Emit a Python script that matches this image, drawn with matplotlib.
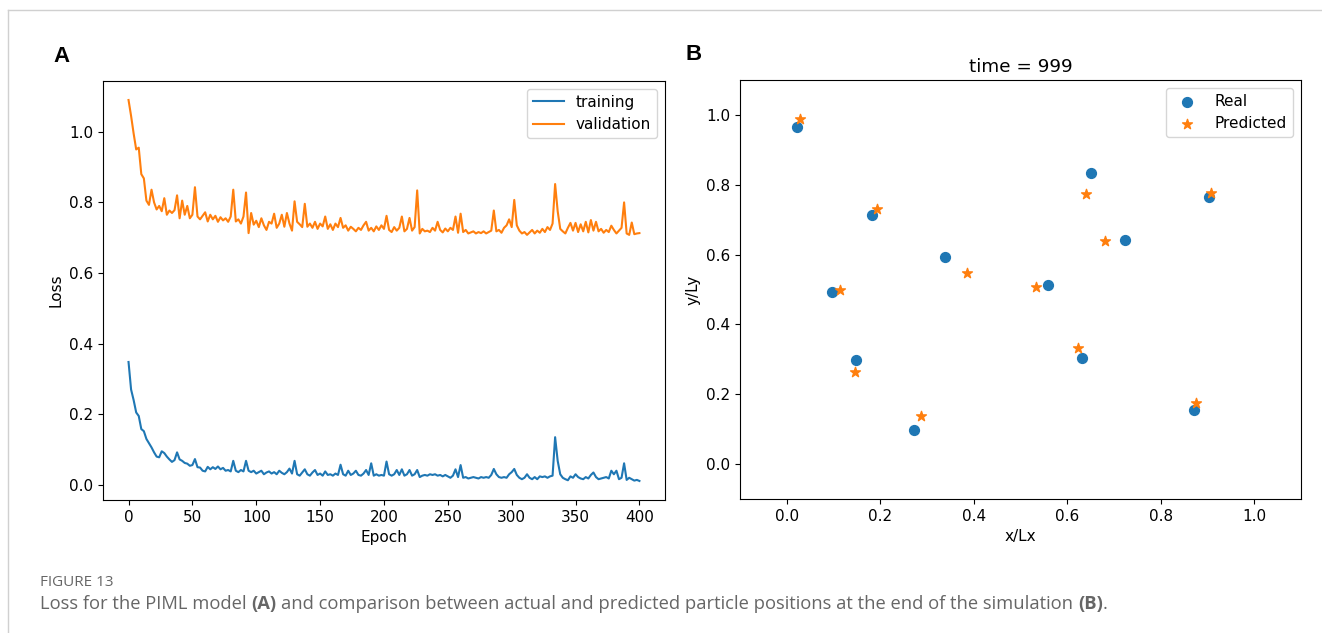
import matplotlib.pyplot as plt
from matplotlib.lines import Line2D

# loss curves, read every 2nd epoch off the picture
epochs = list(range(0, 401, 2))
training = [
    0.348, 0.270, 0.240, 0.205, 0.195, 0.158, 0.152, 0.130, 0.118, 0.106,
    0.092, 0.080, 0.078, 0.095, 0.090, 0.080, 0.072, 0.065, 0.070, 0.092,
    0.072, 0.068, 0.062, 0.060, 0.054, 0.056, 0.073, 0.050, 0.049, 0.040,
    0.038, 0.051, 0.044, 0.050, 0.045, 0.052, 0.044, 0.048, 0.040, 0.042,
    0.038, 0.068, 0.040, 0.036, 0.042, 0.038, 0.068, 0.040, 0.036, 0.040,
    0.032, 0.036, 0.040, 0.030, 0.035, 0.038, 0.032, 0.036, 0.030, 0.040,
    0.034, 0.030, 0.036, 0.046, 0.032, 0.068, 0.030, 0.026, 0.035, 0.044,
    0.030, 0.026, 0.035, 0.042, 0.028, 0.032, 0.026, 0.038, 0.028, 0.030,
    0.026, 0.032, 0.028, 0.057, 0.030, 0.026, 0.040, 0.028, 0.032, 0.040,
    0.028, 0.026, 0.032, 0.042, 0.028, 0.061, 0.026, 0.030, 0.026, 0.028,
    0.026, 0.066, 0.030, 0.026, 0.030, 0.042, 0.028, 0.044, 0.026, 0.030,
    0.042, 0.026, 0.030, 0.042, 0.022, 0.026, 0.028, 0.026, 0.030, 0.028,
    0.030, 0.026, 0.028, 0.024, 0.028, 0.024, 0.020, 0.026, 0.044, 0.022,
    0.056, 0.020, 0.022, 0.018, 0.020, 0.022, 0.020, 0.018, 0.022, 0.020,
    0.022, 0.020, 0.028, 0.045, 0.030, 0.022, 0.020, 0.022, 0.020, 0.030,
    0.036, 0.045, 0.028, 0.020, 0.016, 0.020, 0.030, 0.020, 0.016, 0.022,
    0.016, 0.024, 0.022, 0.024, 0.020, 0.024, 0.026, 0.135, 0.068, 0.030,
    0.020, 0.016, 0.013, 0.024, 0.020, 0.030, 0.022, 0.018, 0.016, 0.022,
    0.018, 0.028, 0.035, 0.022, 0.016, 0.018, 0.020, 0.022, 0.018, 0.040,
    0.030, 0.040, 0.016, 0.020, 0.061, 0.014, 0.020, 0.016, 0.012, 0.014,
    0.011,
]
validation = [
    1.090, 1.045, 0.995, 0.950, 0.955, 0.880, 0.868, 0.805, 0.793, 0.836,
    0.800, 0.780, 0.790, 0.775, 0.812, 0.765, 0.777, 0.770, 0.778, 0.820,
    0.755, 0.805, 0.765, 0.790, 0.755, 0.765, 0.843, 0.760, 0.752, 0.762,
    0.772, 0.746, 0.765, 0.752, 0.762, 0.745, 0.758, 0.749, 0.755, 0.745,
    0.760, 0.836, 0.746, 0.752, 0.740, 0.760, 0.828, 0.713, 0.770, 0.737,
    0.748, 0.730, 0.755, 0.735, 0.722, 0.745, 0.740, 0.768, 0.728, 0.740,
    0.765, 0.731, 0.770, 0.740, 0.720, 0.803, 0.745, 0.738, 0.730, 0.796,
    0.731, 0.740, 0.728, 0.745, 0.725, 0.740, 0.732, 0.760, 0.725, 0.738,
    0.722, 0.740, 0.730, 0.756, 0.728, 0.735, 0.720, 0.731, 0.725, 0.718,
    0.728, 0.722, 0.735, 0.745, 0.720, 0.728, 0.718, 0.732, 0.722, 0.735,
    0.725, 0.762, 0.722, 0.716, 0.730, 0.720, 0.728, 0.760, 0.718, 0.725,
    0.756, 0.720, 0.730, 0.834, 0.712, 0.725, 0.718, 0.720, 0.716, 0.728,
    0.720, 0.745, 0.722, 0.715, 0.726, 0.718, 0.728, 0.722, 0.760, 0.714,
    0.768, 0.716, 0.722, 0.712, 0.715, 0.718, 0.712, 0.716, 0.713, 0.718,
    0.712, 0.716, 0.720, 0.777, 0.718, 0.722, 0.714, 0.728, 0.735, 0.752,
    0.730, 0.807, 0.735, 0.720, 0.712, 0.716, 0.708, 0.715, 0.722, 0.712,
    0.720, 0.714, 0.725, 0.716, 0.730, 0.722, 0.740, 0.852, 0.775, 0.725,
    0.718, 0.712, 0.728, 0.742, 0.720, 0.742, 0.716, 0.738, 0.718, 0.745,
    0.715, 0.750, 0.720, 0.745, 0.718, 0.725, 0.714, 0.722, 0.716, 0.734,
    0.722, 0.712, 0.720, 0.728, 0.800, 0.712, 0.708, 0.743, 0.710, 0.712,
    0.713,
]

# particle positions at the last time step
real_x = [0.021, 0.183, 0.339, 0.650, 0.724, 0.903, 0.096, 0.559, 0.148, 0.631, 0.272, 0.871]
real_y = [0.966, 0.714, 0.593, 0.833, 0.642, 0.764, 0.492, 0.514, 0.297, 0.303, 0.099, 0.154]
pred_x = [0.029, 0.194, 0.386, 0.641, 0.680, 0.907, 0.113, 0.534, 0.146, 0.622, 0.287, 0.876]
pred_y = [0.989, 0.730, 0.548, 0.772, 0.638, 0.776, 0.499, 0.508, 0.264, 0.333, 0.138, 0.176]

plt.rcParams['font.size'] = 11
fig = plt.figure(figsize=(13.22, 6.33), dpi=100)

# panel A - loss
ax1 = fig.add_axes([0.0779, 0.2101, 0.4251, 0.662])
ax1.plot(epochs, training, label='training')
ax1.plot(epochs, validation, label='validation')
ax1.set_xticks(range(0, 401, 50))
ax1.set_xlabel('Epoch')
ax1.set_ylabel('Loss')
ax1.legend(loc='upper right')

# panel B - positions
ax2 = fig.add_axes([0.5598, 0.2117, 0.4243, 0.662])
ax2.scatter(real_x, real_y, s=50, label='Real')
ax2.scatter(pred_x, pred_y, marker='*', s=55, label='Predicted')
ax2.set_xlim(-0.1, 1.1)
ax2.set_ylim(-0.1, 1.1)
ax2.set_title('time = 999')
ax2.set_xlabel('x/Lx')
ax2.set_ylabel('y/Ly')
ax2.legend(loc='upper right')

fig.text(61 / 1322, 1 - 56 / 633, 'A', fontsize=16, fontweight='bold',
         family='Liberation Sans', ha='center', va='center')
fig.text(694 / 1322, 1 - 55 / 633, 'B', fontsize=16, fontweight='bold',
         family='Liberation Sans', ha='center', va='center')

# thin frame lines of the page
fig.add_artist(Line2D([8 / 1322, 1], [1 - 10 / 633, 1 - 10 / 633],
                      transform=fig.transFigure, color='#d0d0d0', lw=1))
fig.add_artist(Line2D([8 / 1322, 8 / 1322], [0, 1 - 10 / 633],
                      transform=fig.transFigure, color='#d0d0d0', lw=1))

# caption
cap_color = '#666666'
fig.text(40 / 1322, 1 - 583 / 633, 'FIGURE 13', fontsize=11, color=cap_color,
         family='Open Sans', va='center')

pieces = [
    ('Loss for the PIML model', 'normal'),
    ('(A)', 'bold'),
    ('and comparison between actual and predicted particle positions at the end of the simulation', 'normal'),
    ('(B)', 'bold'),
    ('.', 'normal'),
]
renderer = fig.canvas.get_renderer()
cap_size = 13.2
probe1 = fig.text(0, 0, 'a a', fontsize=cap_size, family='Open Sans')
probe2 = fig.text(0, 0, 'aa', fontsize=cap_size, family='Open Sans')
space_w = probe1.get_window_extent(renderer).width - probe2.get_window_extent(renderer).width
probe1.remove()
probe2.remove()

x = 40.0
y = 1 - 604 / 633
for i, (txt, w) in enumerate(pieces):
    if i > 0 and txt != '.':
        x += space_w
    t = fig.text(x / 1322, y, txt, fontsize=cap_size, fontweight=w,
                 color=cap_color, family='Open Sans', va='center')
    x += t.get_window_extent(renderer).width

fig.savefig('out.png', dpi=100)
